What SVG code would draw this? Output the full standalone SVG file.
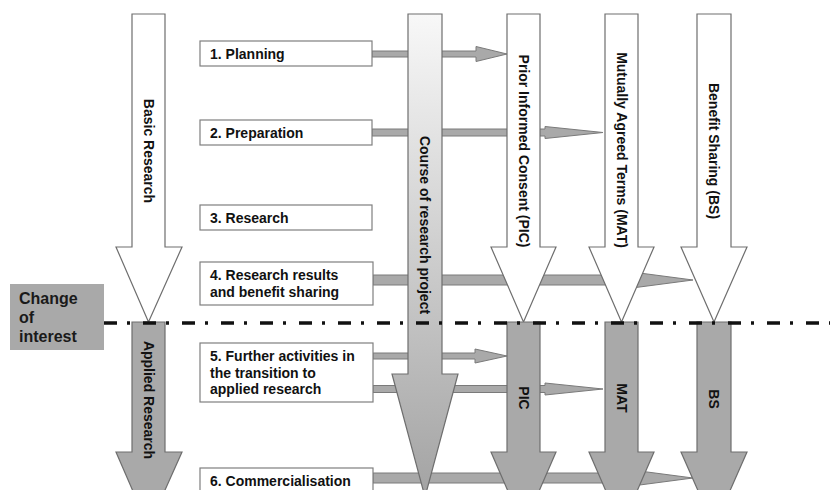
<svg xmlns="http://www.w3.org/2000/svg" width="830" height="490" viewBox="0 0 830 490">
<style>
.bar{fill:#a9a9a9;stroke:#7a7a7a;stroke-width:1}
.box{fill:#ffffff;stroke:#7f7f7f;stroke-width:1.2}
.up{fill:#ffffff;stroke:#6e6e6e;stroke-width:1.2}
.low{fill:#a9a9a9;stroke:#6e6e6e;stroke-width:1.2}
.t{font-family:"Liberation Sans",Arial,sans-serif;font-weight:bold;font-size:14px;fill:#111}
.v{font-family:"Liberation Sans",Arial,sans-serif;font-weight:bold;font-size:14px;fill:#111;text-anchor:middle}
.ci{font-family:"Liberation Sans",Arial,sans-serif;font-weight:bold;font-size:16px;fill:#1a1a1a}
</style>
<defs>
<linearGradient id="courseGrad" gradientUnits="userSpaceOnUse" x1="0" y1="14" x2="0" y2="497">
<stop offset="0" stop-color="#f8f8f8"/>
<stop offset="1" stop-color="#a3a3a3"/>
</linearGradient>
</defs>
<rect width="830" height="490" fill="#ffffff"/>

<g id="connectors">
<path class="bar" d="M372,51 H476 V46.5 L507,54 L476,61.5 V57 H372 Z"/>
<path class="bar" d="M372,129 H545 V126.5 L603,132.5 L545,138.5 V136 H372 Z"/>
<path class="bar" d="M373,275 H632 V272 L693,280 L632,288 V285 H373 Z"/>
<path class="bar" d="M373,353 H475 V349 L507,356 L475,363 V359 H373 Z"/>
<path class="bar" d="M373,385.5 H545 V383 L603,389 L545,395 V392.5 H373 Z"/>
<path class="bar" d="M373,473 H632 V470 L693,478 L632,486 V483 H373 Z"/>
</g>

<g id="step1"><rect class="box" x="200" y="41" width="172" height="25"/><text class="t" x="210" y="59">1. Planning</text></g>
<g id="step2"><rect class="box" x="200" y="120" width="172" height="25"/><text class="t" x="210" y="138">2. Preparation</text></g>
<g id="step3"><rect class="box" x="200" y="205" width="172" height="25"/><text class="t" x="210" y="223">3. Research</text></g>
<g id="step4"><rect class="box" x="200" y="262" width="173" height="43"/><text class="t" x="210" y="280">4. Research results</text><text class="t" x="210" y="297">and benefit sharing</text></g>
<g id="step5"><rect class="box" x="200" y="343" width="173" height="59"/><text class="t" x="210" y="361">5. Further activities in</text><text class="t" x="210" y="377.5">the transition to</text><text class="t" x="210" y="394">applied research</text></g>
<g id="step6"><rect class="box" x="200" y="468" width="173" height="26"/><text class="t" x="210" y="486">6. Commercialisation</text></g>

<g id="change-of-interest"><rect x="10" y="284" width="94" height="66" fill="#a9a9a9"/><text class="ci" x="19" y="304">Change</text><text class="ci" x="19" y="323">of</text><text class="ci" x="19" y="342">interest</text></g>

<g id="basic-research"><path class="up" d="M132,14 H165 V247 H182 L148.5,322 L116,247 H132 Z"/><text class="v" transform="translate(143.5,151) rotate(90)">Basic Research</text></g>
<g id="applied-research"><path class="low" d="M132,322 H165 V452 H182 L148.5,527 L116,452 H132 Z"/><text class="v" transform="translate(143.5,400) rotate(90)">Applied Research</text></g>

<g id="course"><path d="M408,14 H442 V374 H458 L425,497 L392,374 H408 Z" fill="url(#courseGrad)" stroke="#6e6e6e" stroke-width="1.2"/><text class="v" transform="translate(420,225) rotate(90)">Course of research project</text></g>

<g id="pic-upper"><path class="up" d="M507,14 H540 V247 H556 L523.5,322 L491,247 H507 Z"/><text class="v" transform="translate(518.5,151) rotate(90)">Prior Informed Consent (PIC)</text></g>
<g id="pic-lower"><path class="low" d="M507,322 H540 V452 H556 L523.5,527 L491,452 H507 Z"/><text class="v" transform="translate(518.5,398) rotate(90)">PIC</text></g>

<g id="mat-upper"><path class="up" d="M605,14 H638 V247 H654 L621.5,322 L589,247 H605 Z"/><text class="v" transform="translate(616.5,150) rotate(90)">Mutually Agreed Terms (MAT)</text></g>
<g id="mat-lower"><path class="low" d="M605,322 H638 V452 H654 L621.5,527 L589,452 H605 Z"/><text class="v" transform="translate(616.5,398) rotate(90)">MAT</text></g>

<g id="bs-upper"><path class="up" d="M697,14 H731 V247 H747 L714,322 L681,247 H697 Z"/><text class="v" transform="translate(709,151) rotate(90)">Benefit Sharing (BS)</text></g>
<g id="bs-lower"><path class="low" d="M697,322 H731 V452 H747 L714,527 L681,452 H697 Z"/><text class="v" transform="translate(709,399) rotate(90)">BS</text></g>

<g id="divider"><path d="M104,323 H830" stroke="#111" stroke-width="3.5" stroke-dasharray="13 10 3 13" fill="none"/></g>
</svg>
